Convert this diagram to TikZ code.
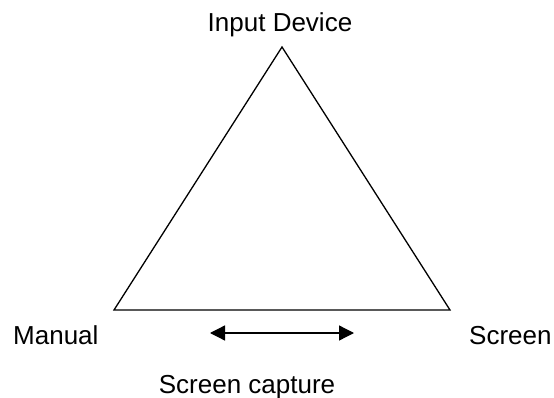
\documentclass[tikz,border=0pt]{standalone}
\usepackage{fontspec}
\setmainfont{Liberation Sans}
\usetikzlibrary{arrows.meta}
\begin{document}
\begin{tikzpicture}[x=1pt,y=-1pt,
  lbl/.style={inner sep=0pt,font=\fontsize{26}{30}\selectfont},
  edge/.style={line width=1.3pt,line join=miter},
  dbl/.style={line width=1.3pt,{Triangle[length=15pt,width=15pt]}-{Triangle[length=15pt,width=15pt]}}]
\useasboundingbox[fill=white] (0,0) rectangle (554,398);
\coordinate (top) at (282,47);
\coordinate (bl) at (114,310);
\coordinate (br) at (450,310);
\draw[edge] (top) -- (bl) -- (br) -- cycle;
\node[lbl,anchor=base] (input) at (280,32) {Input Device};
\node[lbl,anchor=base west] (manual) at (13,344) {Manual};
\node[lbl,anchor=base west] (screen) at (469,344) {Screen};
\node[lbl,anchor=base] (capture) at (247,393) {Screen capture};
\coordinate (al) at (210,333);
\coordinate (ar) at (354,333);
\draw[dbl] (al) -- (ar);
\end{tikzpicture}
\end{document}
